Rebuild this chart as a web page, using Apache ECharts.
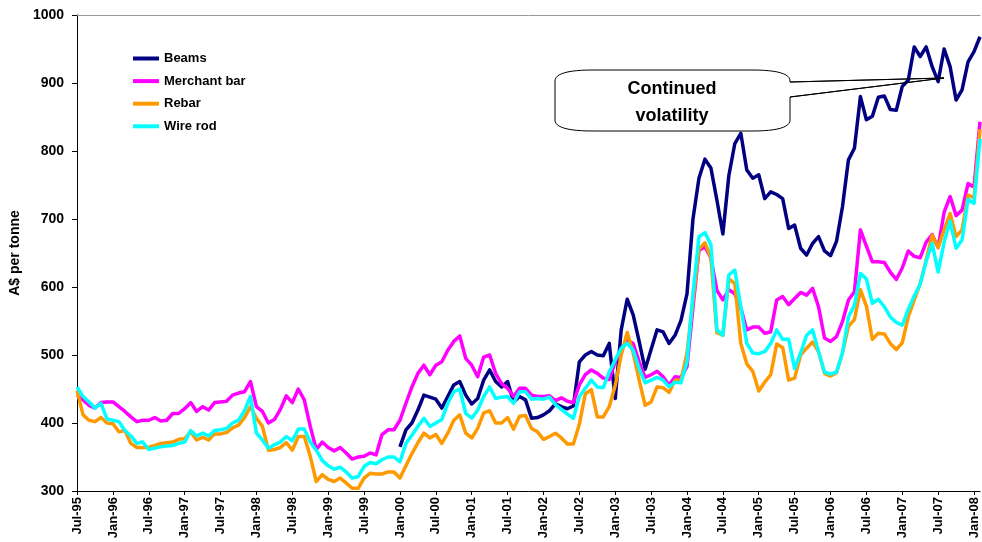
<!DOCTYPE html>
<html>
<head>
<meta charset="utf-8">
<script src="https://cdn.jsdelivr.net/npm/echarts@6/dist/echarts.min.js"></script>
<style>
  html, body { margin: 0; padding: 0; background: #fff; }
  #chart { width: 982px; height: 542px; }
</style>
</head>
<body>
<div id="chart"></div>
<script>
// Monthly categories, Jul-95 to Feb-08
const months = [
  'Jul-95','Aug-95','Sep-95','Oct-95','Nov-95','Dec-95',
  'Jan-96','Feb-96','Mar-96','Apr-96','May-96','Jun-96','Jul-96','Aug-96','Sep-96','Oct-96','Nov-96','Dec-96',
  'Jan-97','Feb-97','Mar-97','Apr-97','May-97','Jun-97','Jul-97','Aug-97','Sep-97','Oct-97','Nov-97','Dec-97',
  'Jan-98','Feb-98','Mar-98','Apr-98','May-98','Jun-98','Jul-98','Aug-98','Sep-98','Oct-98','Nov-98','Dec-98',
  'Jan-99','Feb-99','Mar-99','Apr-99','May-99','Jun-99','Jul-99','Aug-99','Sep-99','Oct-99','Nov-99','Dec-99',
  'Jan-00','Feb-00','Mar-00','Apr-00','May-00','Jun-00','Jul-00','Aug-00','Sep-00','Oct-00','Nov-00','Dec-00',
  'Jan-01','Feb-01','Mar-01','Apr-01','May-01','Jun-01','Jul-01','Aug-01','Sep-01','Oct-01','Nov-01','Dec-01',
  'Jan-02','Feb-02','Mar-02','Apr-02','May-02','Jun-02','Jul-02','Aug-02','Sep-02','Oct-02','Nov-02','Dec-02',
  'Jan-03','Feb-03','Mar-03','Apr-03','May-03','Jun-03','Jul-03','Aug-03','Sep-03','Oct-03','Nov-03','Dec-03',
  'Jan-04','Feb-04','Mar-04','Apr-04','May-04','Jun-04','Jul-04','Aug-04','Sep-04','Oct-04','Nov-04','Dec-04',
  'Jan-05','Feb-05','Mar-05','Apr-05','May-05','Jun-05','Jul-05','Aug-05','Sep-05','Oct-05','Nov-05','Dec-05',
  'Jan-06','Feb-06','Mar-06','Apr-06','May-06','Jun-06','Jul-06','Aug-06','Sep-06','Oct-06','Nov-06','Dec-06',
  'Jan-07','Feb-07','Mar-07','Apr-07','May-07','Jun-07','Jul-07','Aug-07','Sep-07','Oct-07','Nov-07','Dec-07',
  'Jan-08','Feb-08'
];

// A$ per tonne; beams series begins Jan-00
const beams = [
  null,null,null,null,null,null,null,null,null,null,null,null,null,null,null,null,null,null,
  null,null,null,null,null,null,null,null,null,null,null,null,null,null,null,null,null,null,
  null,null,null,null,null,null,null,null,null,null,null,null,null,null,null,null,null,null,
  365,390,400,419,441,438,435,422,439,456,461,441,428,436,463,478,461,453,
  461,431,439,434,407,408,412,418,428,424,421,425,490,500,505,500,499,517,
  436,537,582,559,520,479,508,537,534,517,529,551,590,700,760,788,775,728,
  678,764,811,826,772,760,765,730,740,736,730,686,691,657,647,664,674,653,
  646,667,718,787,804,880,846,851,879,881,861,860,895,904,953,939,953,924,
  902,950,924,875,890,931,946,968
];

const merchantBar = [
  441,434,426,422,430,431,431,424,417,409,402,404,404,408,403,404,414,414,
  421,430,417,424,419,430,431,432,441,444,446,461,424,417,400,405,420,440,
  430,450,434,395,361,372,364,359,364,356,347,350,351,356,353,383,390,390,
  404,429,453,473,485,471,485,490,507,520,528,495,485,468,497,500,473,458,
  451,439,451,451,441,439,439,440,433,437,432,430,456,471,478,473,466,464,
  490,507,522,517,490,467,471,476,468,456,468,467,483,570,654,659,643,595,
  581,596,590,569,537,541,541,532,534,581,586,574,583,592,588,598,571,525,
  520,527,549,581,593,684,660,637,637,636,622,611,628,653,645,643,666,677,
  658,710,733,705,713,752,747,843
];

const rebar = [
  448,412,404,402,408,400,399,387,389,370,364,364,364,367,370,371,372,376,
  377,387,375,379,375,384,384,386,393,397,408,424,407,395,360,361,364,371,
  360,380,380,351,314,324,317,314,319,312,304,304,319,326,325,325,328,328,
  319,337,355,371,385,378,383,370,385,404,412,385,378,392,415,418,400,400,
  408,391,410,411,392,387,376,380,385,378,369,369,398,443,449,409,409,424,
  455,500,533,503,463,426,431,453,452,445,463,463,503,580,656,665,643,533,
  529,612,605,517,487,476,447,460,471,516,511,463,466,500,510,519,505,473,
  469,474,503,542,552,596,572,523,532,531,517,508,518,556,581,605,640,676,
  658,684,708,674,684,735,731,832
];

const wireRod = [
  453,439,431,422,429,406,404,402,389,381,370,372,361,363,365,366,367,370,
  372,389,381,385,381,389,390,392,400,404,418,439,385,375,363,368,372,380,
  374,391,391,372,360,345,337,332,335,328,319,321,336,342,340,346,350,350,
  343,370,382,395,407,395,400,405,429,446,450,414,407,419,439,453,436,438,
  439,429,446,446,435,436,435,438,427,420,413,407,439,451,463,453,452,475,
  493,510,517,507,480,459,463,467,463,453,460,459,490,590,674,680,662,537,
  529,618,625,571,517,503,502,505,517,537,523,523,480,503,529,537,505,475,
  472,475,503,556,573,620,612,576,582,571,556,548,544,567,587,604,638,664,
  622,666,697,657,669,729,723,818
];

const seriesNames = ['Beams', 'Merchant bar', 'Rebar', 'Wire rod'];
const seriesColors = ['#000080', '#FF00FF', '#FF9900', '#00FFFF'];
const seriesData = [beams, merchantBar, rebar, wireRod];

const yTicks = { min: 300, max: 1000, step: 100 };
const calloutLines = ['Continued', 'volatility'];

const FONT = '"Liberation Sans", Arial, sans-serif';

// Outline of the rounded callout box: straight runs joined by quadratic corners
function quad(p0, c, p1, steps) {
  const pts = [];
  for (let s = 1; s <= steps; s++) {
    const t = s / steps, u = 1 - t;
    pts.push([u * u * p0[0] + 2 * u * t * c[0] + t * t * p1[0],
              u * u * p0[1] + 2 * u * t * c[1] + t * t * p1[1]]);
  }
  return pts;
}
function calloutOutline(l, t, r, b, rx, ry, tip, gapTop, gapBottom) {
  let pts = [[l + rx, t], [r - rx, t]];
  pts = pts.concat(quad([r - rx, t], [r, t], [r, t + ry], 12));
  pts.push([r, gapTop], tip, [r, gapBottom], [r, b - ry]);
  pts = pts.concat(quad([r, b - ry], [r, b], [r - rx, b], 12));
  pts.push([l + rx, b]);
  pts = pts.concat(quad([l + rx, b], [l, b], [l, b - ry], 12));
  pts.push([l, t + ry]);
  pts = pts.concat(quad([l, t + ry], [l, t], [l + rx, t], 12));
  return pts;
}
const boxOutline = calloutOutline(555, 70, 790, 131, 38, 11, [944, 78], 82, 97);

const chart = echarts.init(document.getElementById('chart'), null, { renderer: 'canvas' });

chart.setOption({
  animation: false,
  backgroundColor: '#ffffff',
  grid: { left: 77, right: 2, top: 15, bottom: 51, containLabel: false },
  legend: {
    orient: 'vertical',
    left: 133,
    top: 52,
    padding: 0,
    itemWidth: 26,
    itemHeight: 4,
    itemGap: 9.6,
    icon: 'rect',
    data: seriesNames,
    textStyle: { fontFamily: FONT, fontWeight: 'bold', fontSize: 13, color: '#000' }
  },
  xAxis: [
    {
      type: 'category',
      data: months,
      boundaryGap: false,
      axisLine: { lineStyle: { color: '#000', width: 1 } },
      axisTick: { interval: 5, length: 4, lineStyle: { color: '#000' } },
      axisLabel: {
        interval: 5,
        rotate: 90,
        margin: 6,
        padding: [7, 0, 0, 0],
        fontFamily: FONT,
        fontWeight: 'bold',
        fontSize: 13,
        color: '#000'
      },
      splitLine: { show: false }
    },
    {
      type: 'category',
      data: months,
      position: 'top',
      boundaryGap: false,
      axisLine: { lineStyle: { color: '#999', width: 1 } },
      axisTick: { show: false },
      axisLabel: { show: false },
      splitLine: { show: false }
    }
  ],
  yAxis: {
    type: 'value',
    min: yTicks.min,
    max: yTicks.max,
    interval: yTicks.step,
    name: 'A$ per tonne',
    nameLocation: 'middle',
    nameRotate: 90,
    nameGap: 45,
    nameTextStyle: { fontFamily: FONT, fontWeight: 'bold', fontSize: 14, color: '#000' },
    axisLine: { show: true, lineStyle: { color: '#000', width: 1 } },
    axisTick: { show: true, length: 5, lineStyle: { color: '#000' } },
    axisLabel: {
      margin: 13,
      formatter: (v) => String(v),
      fontFamily: FONT,
      fontWeight: 'bold',
      fontSize: 14,
      color: '#000'
    },
    splitLine: { show: false }
  },
  series: seriesNames.map((name, k) => ({
    name: name,
    type: 'line',
    data: seriesData[k],
    showSymbol: false,
    symbol: 'none',
    connectNulls: false,
    color: seriesColors[k],
    lineStyle: { color: seriesColors[k], width: 3.5, join: 'round' },
    emphasis: { disabled: true }
  })),
  graphic: [
    {
      // callout box with a wedge pointing at the recent beams peaks
      type: 'polygon',
      shape: { points: boxOutline },
      style: { fill: '#ffffff', stroke: '#000000', lineWidth: 1 },
      z: 0
    },
    {
      type: 'polyline',
      shape: { points: [[790, 82], [944, 78], [790, 97]] },
      style: { fill: null, stroke: '#000000', lineWidth: 1 },
      z: 50
    },
    {
      type: 'text',
      x: 672,
      y: 89,
      style: {
        text: calloutLines[0],
        font: 'bold 18px ' + FONT,
        fill: '#000',
        textAlign: 'center',
        textVerticalAlign: 'middle'
      },
      z: 51
    },
    {
      type: 'text',
      x: 672,
      y: 116,
      style: {
        text: calloutLines[1],
        font: 'bold 18px ' + FONT,
        fill: '#000',
        textAlign: 'center',
        textVerticalAlign: 'middle'
      },
      z: 51
    }
  ]
});
</script>
</body>
</html>
